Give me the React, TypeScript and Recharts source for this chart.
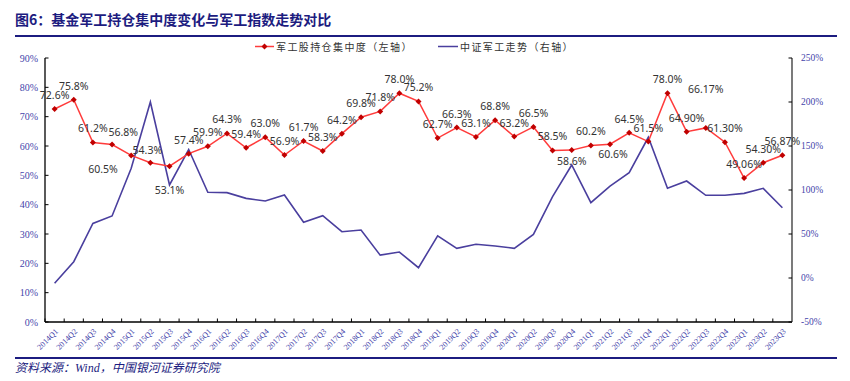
import React from 'react'
import { ComposedChart, Line, XAxis, YAxis, LabelList } from 'recharts'

const QUARTERS = [
  '2014Q1', '2014Q2', '2014Q3', '2014Q4',
  '2015Q1', '2015Q2', '2015Q3', '2015Q4',
  '2016Q1', '2016Q2', '2016Q3', '2016Q4',
  '2017Q1', '2017Q2', '2017Q3', '2017Q4',
  '2018Q1', '2018Q2', '2018Q3', '2018Q4',
  '2019Q1', '2019Q2', '2019Q3', '2019Q4',
  '2020Q1', '2020Q2', '2020Q3', '2020Q4',
  '2021Q1', '2021Q2', '2021Q3', '2021Q4',
  '2022Q1', '2022Q2', '2022Q3', '2022Q4',
  '2023Q1', '2023Q2', '2023Q3',
]

// 军工股持仓集中度 (左轴, %)
const FUND_SHARE = [
  72.6, 75.8, 61.2, 60.5, 56.8, 54.3, 53.1, 57.4, 59.9, 64.3,
  59.4, 63.0, 56.9, 61.7, 58.3, 64.2, 69.8, 71.8, 78.0, 75.2,
  62.7, 66.3, 63.1, 68.8, 63.2, 66.5, 58.5, 58.6, 60.2, 60.6,
  64.5, 61.5, 78.0, 64.9, 66.17, 61.3, 49.06, 54.3, 56.87,
]

const SHARE_LABELS = [
  '72.6%', '75.8%', '61.2%', '60.5%', '56.8%', '54.3%', '53.1%', '57.4%', '59.9%', '64.3%',
  '59.4%', '63.0%', '56.9%', '61.7%', '58.3%', '64.2%', '69.8%', '71.8%', '78.0%', '75.2%',
  '62.7%', '66.3%', '63.1%', '68.8%', '63.2%', '66.5%', '58.5%', '58.6%', '60.2%', '60.6%',
  '64.5%', '61.5%', '78.0%', '64.90%', '66.17%', '61.30%', '49.06%', '54.30%', '56.87%',
]

// 中证军工走势 (右轴, %)
const INDEX_TREND = [
  -6, 18.5, 62, 70.5, 124.7, 200, 105.7, 146, 97.4, 97,
  90.5, 87.5, 94.3, 63.3, 70.8, 52.6, 54.5, 26, 29.5, 11.7,
  48, 33.7, 38.3, 36.4, 33.7, 49.6, 92.4, 128.4, 85.6, 104.5,
  119.7, 159.9, 101.9, 110.2, 94, 94, 96.2, 101.9, 79.9,
]

const LEFT_TICKS = [0, 10, 20, 30, 40, 50, 60, 70, 80, 90]
const RIGHT_TICKS = [-50, 0, 50, 100, 150, 200, 250]

// label placement tweaks (dx, dy from the default spot above a point)
const LABEL_NUDGE: Record<number, [number, number]> = {
  3: [-9, 38],
  4: [-8, -9],
  5: [-3, 1],
  6: [0, 38],
  27: [0, 25],
  29: [3, 24],
  34: [0, -25],
}

const W = 850
const H = 381
const PLOT_LEFT = 45
const PLOT_RIGHT = 792
const PLOT_TOP = 58
const PLOT_BOTTOM = 322
const X_PAD = 9.6
const STEP = (PLOT_RIGHT - PLOT_LEFT - 2 * X_PAD) / (QUARTERS.length - 1)

const NAVY = '#1c1c80'
const AXIS_TEXT = '#4444aa'
const RED = '#ff3c3c'
const DARK_RED = '#c00000'
const BLUE = '#4a3f9e'

const data = QUARTERS.map((q, i) => ({
  quarter: q,
  share: FUND_SHARE[i],
  trend: INDEX_TREND[i],
  label: SHARE_LABELS[i],
}))

const QuarterTick = (props: any) => {
  const { x, payload } = props
  const tx = x + 4
  const ty = PLOT_BOTTOM + 10
  return (
    <g>
      <line x1={x - STEP / 2} x2={x - STEP / 2} y1={PLOT_BOTTOM} y2={PLOT_BOTTOM - 3.5} stroke="#000" />
      <text
        x={tx}
        y={ty}
        transform={`rotate(-45 ${tx} ${ty})`}
        textAnchor="end"
        fontSize={8}
        fontFamily="'Liberation Serif', serif"
        fill={AXIS_TEXT}
      >
        {payload.value}
      </text>
    </g>
  )
}

const LeftTick = (props: any) => {
  const { y, payload } = props
  return (
    <g>
      <line x1={PLOT_LEFT} x2={PLOT_LEFT + 3.5} y1={y} y2={y} stroke="#000" />
      <text x={PLOT_LEFT - 7} y={y} dy="0.35em" textAnchor="end" fontSize={10}
        fontFamily="'Liberation Serif', serif" fill={AXIS_TEXT}>
        {`${payload.value}%`}
      </text>
    </g>
  )
}

const RightTick = (props: any) => {
  const { y, payload } = props
  return (
    <g>
      <line x1={PLOT_RIGHT - 3.5} x2={PLOT_RIGHT} y1={y} y2={y} stroke="#000" />
      <text x={PLOT_RIGHT + 9} y={y} dy="0.35em" textAnchor="start" fontSize={9.5}
        fontFamily="'Liberation Serif', serif" fill={AXIS_TEXT}>
        {`${payload.value}%`}
      </text>
    </g>
  )
}

const Diamond = (props: any) => {
  const { cx, cy, index } = props
  if (cx == null || cy == null) return <g key={index} />
  const r = 3
  return (
    <polygon
      key={index}
      points={`${cx},${cy - r} ${cx + r},${cy} ${cx},${cy + r} ${cx - r},${cy}`}
      fill={DARK_RED}
    />
  )
}

const ShareLabel = (props: any) => {
  const { x, y, index } = props
  const [dx, dy] = LABEL_NUDGE[index] || [0, 0]
  return (
    <text x={x + dx} y={y - 10 + dy} textAnchor="middle" fontSize={10.5}
      fontFamily="'Noto Sans', sans-serif" fill="#333">
      {SHARE_LABELS[index]}
    </text>
  )
}

const legendText: React.CSSProperties = {
  position: 'absolute',
  top: 40,
  fontSize: 10,
  letterSpacing: 1.4,
  color: '#333',
  fontFamily: "'Noto Sans CJK SC', sans-serif",
  lineHeight: '13px',
  whiteSpace: 'nowrap',
}

export default function App() {
  return (
    <div style={{ position: 'absolute', left: 0, top: 0, width: W, height: H, background: '#fff', overflow: 'hidden' }}>
      <div style={{
        position: 'absolute', left: 15, top: 9, fontSize: 14, fontWeight: 700, color: NAVY,
        fontFamily: "'Noto Sans CJK SC', sans-serif", lineHeight: '20px', whiteSpace: 'nowrap',
      }}>
        图6：基金军工持仓集中度变化与军工指数走势对比
      </div>
      <div style={{ position: 'absolute', left: 15, top: 34.5, width: 822, height: 2.5, background: NAVY }} />

      <svg style={{ position: 'absolute', left: 0, top: 0 }} width={W} height={60}>
        <line x1={255} x2={274} y1={46.5} y2={46.5} stroke={RED} strokeWidth={1.5} />
        <polygon points="264.5,43.5 267.5,46.5 264.5,49.5 261.5,46.5" fill={DARK_RED} />
        <line x1={438} x2={458} y1={46.5} y2={46.5} stroke={BLUE} strokeWidth={1.5} />
      </svg>
      <div style={{ ...legendText, left: 276 }}>军工股持仓集中度（左轴）</div>
      <div style={{ ...legendText, left: 460 }}>中证军工走势（右轴）</div>

      <div style={{ position: 'absolute', left: 0, top: 0 }}>
        <ComposedChart width={W} height={H} data={data}
          margin={{ top: PLOT_TOP, right: 0, bottom: H - PLOT_BOTTOM - 30, left: 0 }}>
          <XAxis
            dataKey="quarter"
            interval={0}
            height={30}
            padding={{ left: X_PAD, right: X_PAD }}
            axisLine={{ stroke: '#000', strokeWidth: 1.3 }}
            tickLine={false}
            tick={<QuarterTick />}
          />
          <YAxis
            yAxisId="left"
            orientation="left"
            width={PLOT_LEFT}
            domain={[0, 90]}
            ticks={LEFT_TICKS}
            interval={0}
            axisLine={{ stroke: '#000', strokeWidth: 1.3 }}
            tickLine={false}
            tick={<LeftTick />}
          />
          <YAxis
            yAxisId="right"
            orientation="right"
            width={W - PLOT_RIGHT}
            domain={[-50, 250]}
            ticks={RIGHT_TICKS}
            interval={0}
            axisLine={{ stroke: '#333', strokeWidth: 1.3 }}
            tickLine={false}
            tick={<RightTick />}
          />
          <Line
            yAxisId="right"
            dataKey="trend"
            stroke={BLUE}
            strokeWidth={1.6}
            dot={false}
            activeDot={false}
            isAnimationActive={false}
          />
          <Line
            yAxisId="left"
            dataKey="share"
            stroke={RED}
            strokeWidth={1.5}
            dot={Diamond}
            activeDot={false}
            isAnimationActive={false}
          >
            <LabelList dataKey="label" content={ShareLabel} />
          </Line>
        </ComposedChart>
      </div>

      <div style={{ position: 'absolute', left: 15, top: 356.5, width: 822, height: 2.5, background: NAVY }} />
      <div style={{
        position: 'absolute', left: 15, top: 360, fontSize: 12, fontStyle: 'italic', color: NAVY,
        fontFamily: "'Liberation Serif', 'Noto Sans CJK SC', serif", lineHeight: '16px', whiteSpace: 'nowrap',
      }}>
        资料来源：Wind，中国银河证券研究院
      </div>
    </div>
  )
}
